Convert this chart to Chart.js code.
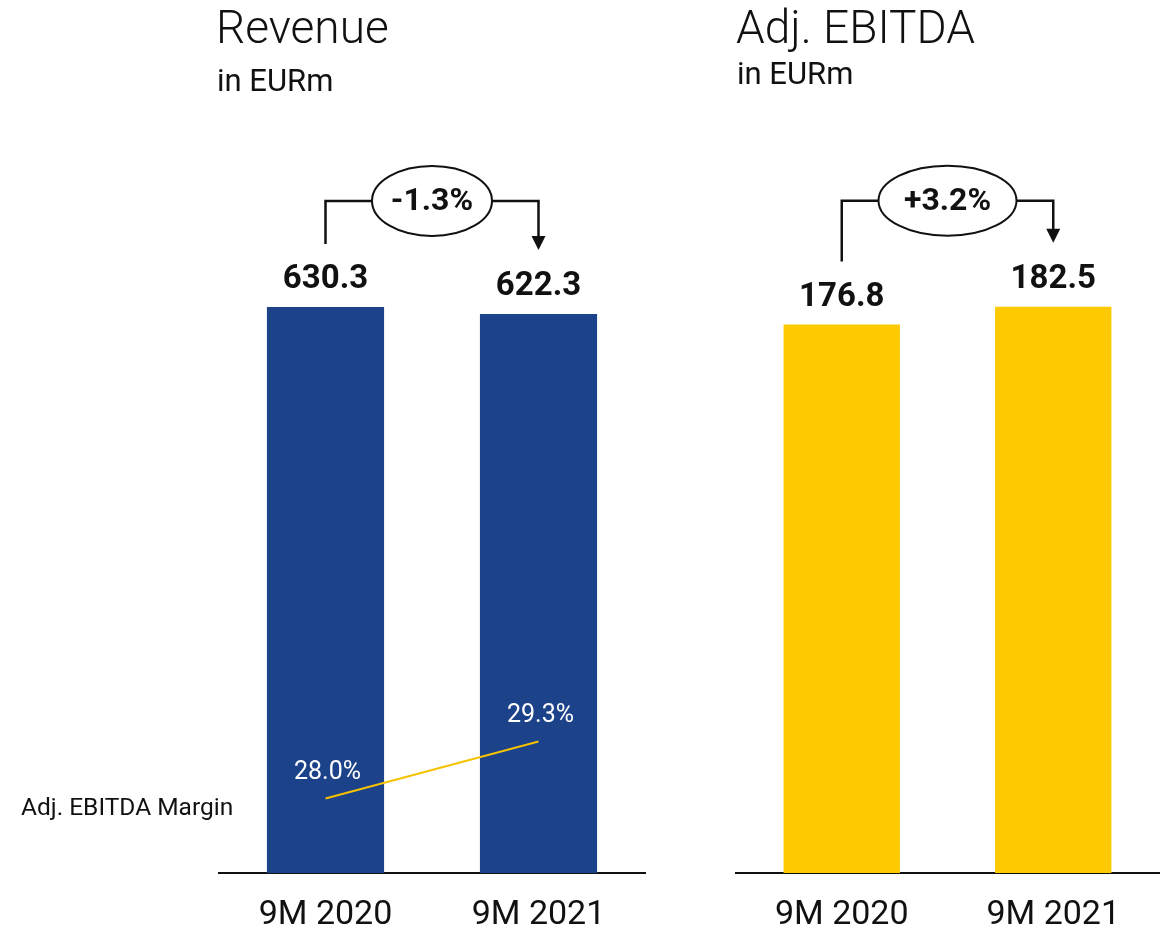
<!DOCTYPE html>
<html>
<head>
<meta charset="utf-8">
<script src="https://cdn.jsdelivr.net/npm/chart.js@4/dist/chart.umd.min.js"></script>
<style>
    html, body { margin: 0; padding: 0; background: #fff; }
    body { width: 1168px; height: 929px; position: relative; overflow: hidden; font-family: Roboto, sans-serif; color: #111; }
    .box { position: absolute; top: 0; height: 957px; }
    .title { position: absolute; font-size: 46px; line-height: 46px; font-weight: 300; white-space: nowrap; }
    .sub { position: absolute; font-size: 31px; line-height: 31px; white-space: nowrap; }
    .note { position: absolute; font-size: 24.5px; line-height: 24px; white-space: nowrap; }
</style>
</head>
<body>
<div class="box" style="left:0;width:660px"><canvas id="revenueChart"></canvas></div>
<div class="box" style="left:660px;width:508px"><canvas id="ebitdaChart"></canvas></div>

<div class="title" style="left:216px;top:4px">Revenue</div>
<div class="sub" style="left:217px;top:65px">in EURm</div>
<div class="title" style="left:736px;top:4px">Adj. EBITDA</div>
<div class="sub" style="left:737px;top:58px">in EURm</div>
<div class="note" style="left:21px;top:795px">Adj. EBITDA Margin</div>

<script>
// data
const categories = ['9M 2020', '9M 2021'];
const revenue = [630.3, 622.3];
const adjEbitda = [176.8, 182.5];
const ebitdaMargin = [28.0, 29.3];
const revenueChange = '-1.3%';
const ebitdaChange = '+3.2%';

const BLUE = '#1c428a';
const YELLOW = '#fdc900';
const INK = '#111';

// value labels, margin labels and the growth bracket
const labelsPlugin = {
    id: 'labels',
    afterDatasetsDraw(chart, args, opts) {
        const ctx = chart.ctx;
        let bars = [];
        chart.data.datasets.forEach((ds, i) => {
            const meta = chart.getDatasetMeta(i);
            if (meta.type === 'bar') {
                bars = meta.data;
                ctx.save();
                ctx.fillStyle = INK;
                ctx.font = 'bold 33px Roboto';
                ctx.textAlign = 'center';
                ctx.textBaseline = 'middle';
                meta.data.forEach((el, j) => ctx.fillText(ds.data[j].toFixed(1), el.x, el.y - 27));
                ctx.restore();
            } else if (meta.type === 'line') {
                ctx.save();
                ctx.fillStyle = '#fff';
                ctx.font = '25px Roboto';
                ctx.textAlign = 'center';
                ctx.textBaseline = 'middle';
                meta.data.forEach((el, j) => ctx.fillText(ds.data[j].toFixed(1) + '%', el.x + 2, el.y - 26));
                ctx.restore();
            }
        });
        if (bars.length < 2 || !opts.text) return;

        const x0 = bars[0].x, x1 = bars[1].x;
        const yB = Math.min(bars[0].y, bars[1].y) - 106;
        const cx = (x0 + x1) / 2;
        const rx = opts.rx, ry = 35;
        const tip = bars[1].y - 64;

        ctx.save();
        ctx.strokeStyle = INK;
        ctx.fillStyle = INK;
        ctx.lineWidth = 2.5;
        ctx.beginPath();
        ctx.moveTo(x0, bars[0].y - 63);
        ctx.lineTo(x0, yB);
        ctx.lineTo(cx - rx, yB);
        ctx.moveTo(cx + rx, yB);
        ctx.lineTo(x1, yB);
        ctx.lineTo(x1, tip - 12);
        ctx.stroke();
        ctx.beginPath();
        ctx.moveTo(x1 - 7, tip - 14);
        ctx.lineTo(x1 + 7, tip - 14);
        ctx.lineTo(x1, tip);
        ctx.closePath();
        ctx.fill();
        ctx.beginPath();
        ctx.ellipse(cx, yB, rx, ry, 0, 0, Math.PI * 2);
        ctx.lineWidth = 2;
        ctx.stroke();
        ctx.font = 'bold 32px Roboto';
        ctx.textAlign = 'center';
        ctx.textBaseline = 'middle';
        ctx.fillText(opts.text, cx, yB + 1);
        ctx.restore();
    }
};

function xAxis() {
    return {
        grid: { display: false, drawTicks: false },
        border: { display: true, color: INK, width: 2 },
        ticks: {
            color: INK,
            padding: 25,
            font: { family: 'Roboto', size: 34, lineHeight: 1 },
        },
    };
}

new Chart(document.getElementById('revenueChart'), {
    type: 'bar',
    data: {
        labels: categories,
        datasets: [
            {
                type: 'line',
                data: ebitdaMargin,
                yAxisID: 'y1',
                borderColor: '#f5c200',
                borderWidth: 2,
                pointRadius: 0,
                order: 0,
            },
            {
                type: 'bar',
                data: revenue,
                yAxisID: 'y',
                backgroundColor: BLUE,
                barPercentage: 0.55,
                categoryPercentage: 1,
                order: 1,
            },
        ],
    },
    options: {
        responsive: true,
        maintainAspectRatio: false,
        animation: false,
        layout: { padding: { left: 219, right: 15, top: 150, bottom: 0 } },
        plugins: {
            legend: { display: false },
            tooltip: { enabled: false },
            labels: { text: revenueChange, rx: 60 },
        },
        scales: {
            x: xAxis(),
            y: { display: false, min: 0, max: 805 },
            y1: { display: false, min: 26.3, max: 42.8 },
        },
    },
    plugins: [labelsPlugin],
});

new Chart(document.getElementById('ebitdaChart'), {
    type: 'bar',
    data: {
        labels: categories,
        datasets: [{
            data: adjEbitda,
            backgroundColor: YELLOW,
            barPercentage: 0.55,
            categoryPercentage: 1,
        }],
    },
    options: {
        responsive: true,
        maintainAspectRatio: false,
        animation: false,
        layout: { padding: { left: 76, right: 9, top: 150, bottom: 0 } },
        plugins: {
            legend: { display: false },
            tooltip: { enabled: false },
            labels: { text: ebitdaChange, rx: 69 },
        },
        scales: {
            x: xAxis(),
            y: { display: false, min: 0, max: 233 },
        },
    },
    plugins: [labelsPlugin],
});
</script>
</body>
</html>
